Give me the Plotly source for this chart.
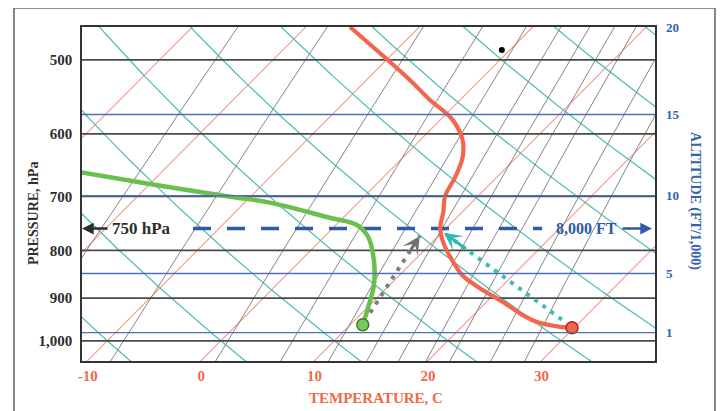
import numpy as np
import plotly.graph_objects as go

# ---------------- data ----------------
pressure_ticks = [500, 600, 700, 800, 900, 1000]
pressure_labels = ["500", "600", "700", "800", "900", "1,000"]

alt_labels = ["1", "5", "10", "15", "20"]          # altitude, thousands of feet
alt_pressure = [980, 847, 699, 572, 461]           # hPa where each altitude sits

temp_ticks = [-10, 0, 10, 20, 30]

isotherms_c = [-40, -30, -20, -10, 0, 10, 20, 30, 40]
dry_adiabats_theta_c = [-10, 0, 10, 20, 30, 40, 50, 60, 70, 80]
mixing_ratios_gkg = [1, 2, 4, 6, 8, 10, 12, 14, 16, 20, 24]

# environmental temperature sounding (red)
env_p = [461, 526, 551, 579, 609, 635, 667, 700, 727, 758, 783, 809,
         850, 877, 908, 938, 956, 966, 968]
env_t = [-16.1, -6.1, -2.8, 1.0, 3.7, 5.2, 6.3, 7.1, 8.3, 9.5, 10.9, 12.6,
         15.5, 18.1, 21.4, 24.3, 26.4, 28.7, 29.8]

# dewpoint sounding (green)
dew_p = [660, 679, 700, 711, 738, 751, 774, 809, 843, 877, 915, 945, 961]
dew_t = [-27.0, -20.0, -12.1, -7.8, -1.2, 1.8, 3.9, 5.9, 7.5, 8.8, 9.9, 10.7, 11.1]

# lifted parcel arrows
dry_lift_p = [949, 766]
dry_lift_t = [28.2, 10.2]
moist_lift_p = [933, 772]
moist_lift_t = [10.7, 8.35]

stray_dot_p = [488]
stray_dot_t = [-0.7]

level_p = 758          # the "750 hPa / 8,000 FT" level as drawn

# ---------------- geometry / style ----------------
P_BOT, P_TOP = 1051, 461
P_REF = 1050
SKEW = 35.5
X_MIN, X_MAX = -10.5, 40.0

SERIF = "Liberation Serif"
ORANGE = "#ee6a48"
BLUE = "#3461ae"
DARK = "#2e2e2e"


def skew_x(t, p):
    return np.asarray(t, float) + SKEW * np.log(P_REF / np.asarray(p, float))


p_grid = np.geomspace(P_BOT + 40, P_TOP - 20, 120)

fig = go.Figure()

def add_line(x, y, color, width, dash=None, yaxis="y", shape="linear"):
    fig.add_trace(go.Scatter(x=x, y=y, mode="lines", yaxis=yaxis,
                             line=dict(color=color, width=width, dash=dash, shape=shape),
                             hoverinfo="skip", showlegend=False))

# isotherms
for t in isotherms_c:
    add_line(skew_x(np.full_like(p_grid, t), p_grid), p_grid, "#f29a88", 1.1)

# dry adiabats
for th in dry_adiabats_theta_c:
    t = (th + 273.15) * (p_grid / 1000.0) ** 0.2857 - 273.15
    add_line(skew_x(t, p_grid), p_grid, "#55bfb6", 1.3)

# saturation mixing ratio lines
for w in mixing_ratios_gkg:
    e = w * p_grid / (622.0 + w)
    le = np.log(e / 6.112)
    td = 243.5 * le / (17.67 - le)
    add_line(skew_x(td, p_grid), p_grid, "#858585", 1.0)

# altitude lines (blue), on the altitude axis
for p in alt_pressure:
    if p > P_TOP + 1:
        add_line([X_MIN - 1, X_MAX + 1], [p, p], "#4f70b8", 1.4, yaxis="y2")
# keep y2 alive
fig.add_trace(go.Scatter(x=[X_MIN], y=[alt_pressure[0]], yaxis="y2", mode="markers",
                         marker=dict(opacity=0), hoverinfo="skip", showlegend=False))

# isobars
for p in pressure_ticks:
    add_line([X_MIN - 1, X_MAX + 1], [p, p], "#4a4a4a", 1.7)

# 8,000 ft dashed line
span = X_MAX - X_MIN
add_line([X_MIN + 0.1937 * span, X_MIN + 0.803 * span], [level_p, level_p],
         "#2f5aa5", 3.6, dash="18px,16px")

# parcel dotted paths
add_line(skew_x(moist_lift_t, moist_lift_p), moist_lift_p, "#7f7f7f", 4, dash="4px,6px")
add_line(skew_x(dry_lift_t, dry_lift_p), dry_lift_p, "#3dbdb3", 4, dash="4px,6px")

# soundings
add_line(skew_x(dew_t, dew_p), dew_p, "#6bbf4e", 4.5, shape="spline")
add_line(skew_x(env_t, env_p), env_p, "#f2674b", 4.2, shape="spline")

# surface circles
fig.add_trace(go.Scatter(x=skew_x(dew_t[-1:], dew_p[-1:]), y=dew_p[-1:], mode="markers",
                         marker=dict(size=12, color="#7cc75f", line=dict(color="#3a7a2a", width=1.5)),
                         hoverinfo="skip", showlegend=False))
fig.add_trace(go.Scatter(x=skew_x(env_t[-1:], env_p[-1:]), y=env_p[-1:], mode="markers",
                         marker=dict(size=12, color="#f2674b", line=dict(color="#a3281a", width=1.5)),
                         hoverinfo="skip", showlegend=False))
fig.add_trace(go.Scatter(x=skew_x(stray_dot_t, stray_dot_p), y=stray_dot_p, mode="markers",
                         marker=dict(size=6, color="black"), hoverinfo="skip", showlegend=False))

annotations = []

# arrowheads for parcel paths
def head(tlist, plist, color):
    xs = skew_x(tlist, plist)
    ly = np.log10(plist)
    tipx, tipy = xs[-1], ly[-1]
    tailx = tipx + 0.2 * (xs[0] - tipx)
    taily = tipy + 0.2 * (ly[0] - tipy)
    annotations.append(dict(x=tipx, y=tipy, ax=tailx, ay=taily, xref="x", yref="y",
                            axref="x", ayref="y", text="", showarrow=True,
                            arrowhead=3, arrowwidth=3, arrowsize=1.0, arrowcolor=color))

head(moist_lift_t, moist_lift_p, "#737373")
head(dry_lift_t, dry_lift_p, "#2fb8ae")

ly_level = float(np.log10(level_p))
annotations += [
    dict(x=0.0, y=ly_level, xref="paper", yref="y", ax=27, ay=0, text="", showarrow=True,
         arrowhead=2, arrowwidth=2.6, arrowsize=0.9, arrowcolor=DARK),
    dict(x=0.1047, y=ly_level, xref="paper", yref="y", text="<b>750 hPa</b>", showarrow=False,
         xanchor="center", yanchor="middle",
         font=dict(family=SERIF, size=17, color=DARK)),
    dict(x=0.881, y=ly_level, xref="paper", yref="y", text="<b>8,000 FT</b>", showarrow=False,
         xanchor="center", yanchor="middle",
         font=dict(family=SERIF, size=16, color="#2f5aa5")),
    dict(x=0.9948, y=ly_level, xref="paper", yref="y", ax=-31, ay=0, text="", showarrow=True,
         arrowhead=2, arrowwidth=2.6, arrowsize=0.9, arrowcolor="#2f5aa5"),
    dict(x=-0.0855, y=0.44, xref="paper", yref="paper", text="<b>PRESSURE, hPa</b>",
         textangle=-90, showarrow=False, xanchor="center", yanchor="middle",
         font=dict(family=SERIF, size=14, color=DARK)),
    dict(x=1.0698, y=0.479, xref="paper", yref="paper", text="<b>ALTITUDE (FT/1,000)</b>",
         textangle=90, showarrow=False, xanchor="center", yanchor="middle",
         font=dict(family=SERIF, size=14, color=BLUE)),
    dict(x=0.513, y=-0.111, xref="paper", yref="paper", text="<b>TEMPERATURE, C</b>",
         showarrow=False, xanchor="center", yanchor="middle",
         font=dict(family=SERIF, size=15, color=ORANGE)),
]

y_range = [np.log10(P_BOT), np.log10(P_TOP)]

# the page body has an 8px default margin, so the figure is sized to sit in the window
fig.update_layout(
    width=716, height=403,
    margin=dict(l=74, r=69, t=19, b=50, autoexpand=False),
    paper_bgcolor="white", plot_bgcolor="white",
    showlegend=False,
    annotations=annotations,
    shapes=[dict(type="rect", xref="paper", yref="paper", x0=-0.1187, x1=1.1047,
                 y0=-0.2, y1=1.0569, line=dict(color="#6a6a6a", width=1.6))],
    xaxis=dict(range=[X_MIN, X_MAX], showgrid=False, zeroline=False, showline=True,
               mirror=True, linecolor="#333333", linewidth=1.6, ticks="",
               tickvals=temp_ticks, ticktext=[f"<b>{t}</b>" for t in temp_ticks],
               tickfont=dict(family=SERIF, size=15, color=ORANGE), automargin=False,
               fixedrange=True),
    yaxis=dict(type="log", range=y_range, showgrid=False, zeroline=False, showline=True,
               mirror=True, linecolor="#333333", linewidth=1.6, ticks="",
               tickvals=pressure_ticks, ticktext=[f"<b>{s}</b>" for s in pressure_labels],
               tickfont=dict(family=SERIF, size=15, color=DARK), ticklabelstandoff=5,
               automargin=False),
    yaxis2=dict(type="log", range=y_range, overlaying="y", side="right", showgrid=False,
                zeroline=False, showline=False, ticks="",
                tickvals=alt_pressure, ticktext=[f"<b>{s}</b>" for s in alt_labels],
                tickfont=dict(family=SERIF, size=13, color=BLUE), ticklabelstandoff=10,
                automargin=False),
)

fig.write_html("out.html")
